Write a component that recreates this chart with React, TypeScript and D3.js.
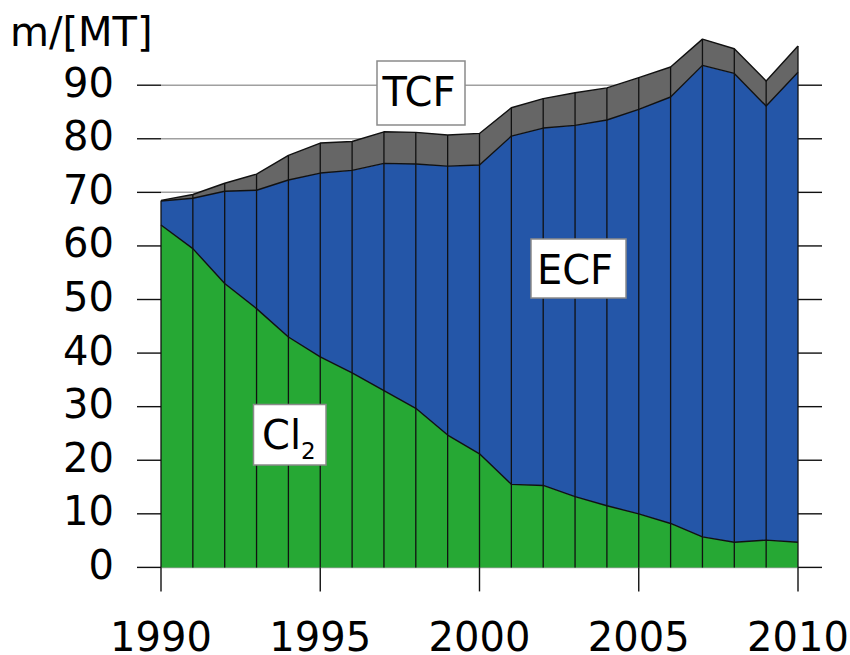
import React from "react";
import * as d3 from "d3";

const years = d3.range(1990, 2011);
const cl2 = [63.9, 59.5, 53.0, 48.3, 43.0, 39.3, 36.3, 33.0, 29.7, 24.7, 21.2, 15.5, 15.3, 13.2, 11.5, 10.0, 8.2, 5.7, 4.7, 5.1, 4.7];
const ecf = [4.5, 9.4, 17.2, 22.1, 29.3, 34.3, 37.8, 42.4, 45.6, 50.2, 53.9, 65.0, 66.7, 69.3, 72.0, 75.5, 79.6, 88.0, 87.5, 81.0, 87.7];
const tcf = [0.1, 0.7, 1.5, 3.0, 4.6, 5.6, 5.4, 5.9, 5.9, 5.8, 5.9, 5.3, 5.5, 6.1, 6.0, 5.9, 5.6, 4.9, 4.6, 4.7, 4.9];
const yTicks = [0, 10, 20, 30, 40, 50, 60, 70, 80, 90];
const xTicks = [1990, 1995, 2000, 2005, 2010];
const seriesKeys = ["Cl2", "ECF", "TCF"];
const seriesColors = ["#26a834", "#2456a8", "#666666"];

export default function App() {
  const W = 850, H = 655;
  const x = d3.scaleLinear().domain([1990, 2010]).range([161, 798]);
  const y = d3.scaleLinear().domain([0, 90]).range([567.4, 85.2]);
  const table = years.map((yr, i) => ({ year: yr, Cl2: cl2[i], ECF: ecf[i], TCF: tcf[i] }));
  const stacked = d3.stack<any>().keys(seriesKeys)(table);
  const area = d3.area<any>().x((d) => x(d.data.year)).y0((d) => y(d[0])).y1((d) => y(d[1]));
  const topLine = d3.line<any>().x((d) => x(d.data.year)).y((d) => y(d[1]));
  const totals = table.map((d) => d.Cl2 + d.ECF + d.TCF);
  const font = "DejaVu Sans";
  const fs = 40;

  return (
    <svg width={W} height={H} style={{ position: "absolute", left: 0, top: 0, background: "#fff" }} fontFamily={font}>
      <rect x={0} y={0} width={W} height={H} fill="#fff" />
      {/* gridlines */}
      {yTicks.map((t) => (
        <line key={"g" + t} x1={x(1990)} x2={x(2010)} y1={y(t)} y2={y(t)} stroke="#a0a0a0" strokeWidth={1.5} />
      ))}
      {/* areas */}
      {stacked.map((s, i) => (
        <path key={s.key} d={area(s) || ""} fill={seriesColors[i]} />
      ))}
      {/* year verticals */}
      {years.map((yr, i) => (
        <line key={"v" + yr} x1={x(yr)} x2={x(yr)} y1={y(0)} y2={y(totals[i])} stroke="#111" strokeWidth={1.3} />
      ))}
      {/* boundary lines */}
      {stacked.map((s) => (
        <path key={"l" + s.key} d={topLine(s) || ""} fill="none" stroke="#111" strokeWidth={1.4} strokeLinejoin="round" />
      ))}
      {/* y ticks */}
      {yTicks.map((t) => (
        <g key={"yt" + t}>
          <line x1={x(1990) - 24} x2={x(1990)} y1={y(t)} y2={y(t)} stroke="#111" strokeWidth={1.4} />
          <line x1={x(2010)} x2={x(2010) + 24} y1={y(t)} y2={y(t)} stroke="#111" strokeWidth={1.4} />
          <text x={114} y={y(t) + 11.5} textAnchor="end" fontSize={fs} fill="#000">{t}</text>
        </g>
      ))}
      {/* x ticks */}
      {xTicks.map((t) => (
        <g key={"xt" + t}>
          <line x1={x(t)} x2={x(t)} y1={y(0)} y2={y(0) + 24} stroke="#111" strokeWidth={1.4} />
          <text x={x(t)} y={651} textAnchor="middle" fontSize={fs} fill="#000">{t}</text>
        </g>
      ))}
      <text x={10} y={46} fontSize={fs} fill="#000">m/[MT]</text>
      {/* labels */}
      <g>
        <rect x={377} y={61} width={88} height={64} fill="#fff" stroke="#8a8a8a" strokeWidth={1.5} />
        <text x={419} y={106} textAnchor="middle" fontSize={fs} fill="#000">TCF</text>
      </g>
      <g>
        <rect x={531} y={239} width={95} height={59} fill="#fff" stroke="#8a8a8a" strokeWidth={1.5} />
        <text x={575} y={283.5} textAnchor="middle" fontSize={fs} fill="#000">ECF</text>
      </g>
      <g>
        <rect x={253.5} y={404.5} width={72.5} height={60.5} fill="#fff" stroke="#8a8a8a" strokeWidth={1.5} />
        <text x={262} y={448.5} fontSize={fs} fill="#000">Cl<tspan fontSize={23} dy={10}>2</tspan></text>
      </g>
    </svg>
  );
}
